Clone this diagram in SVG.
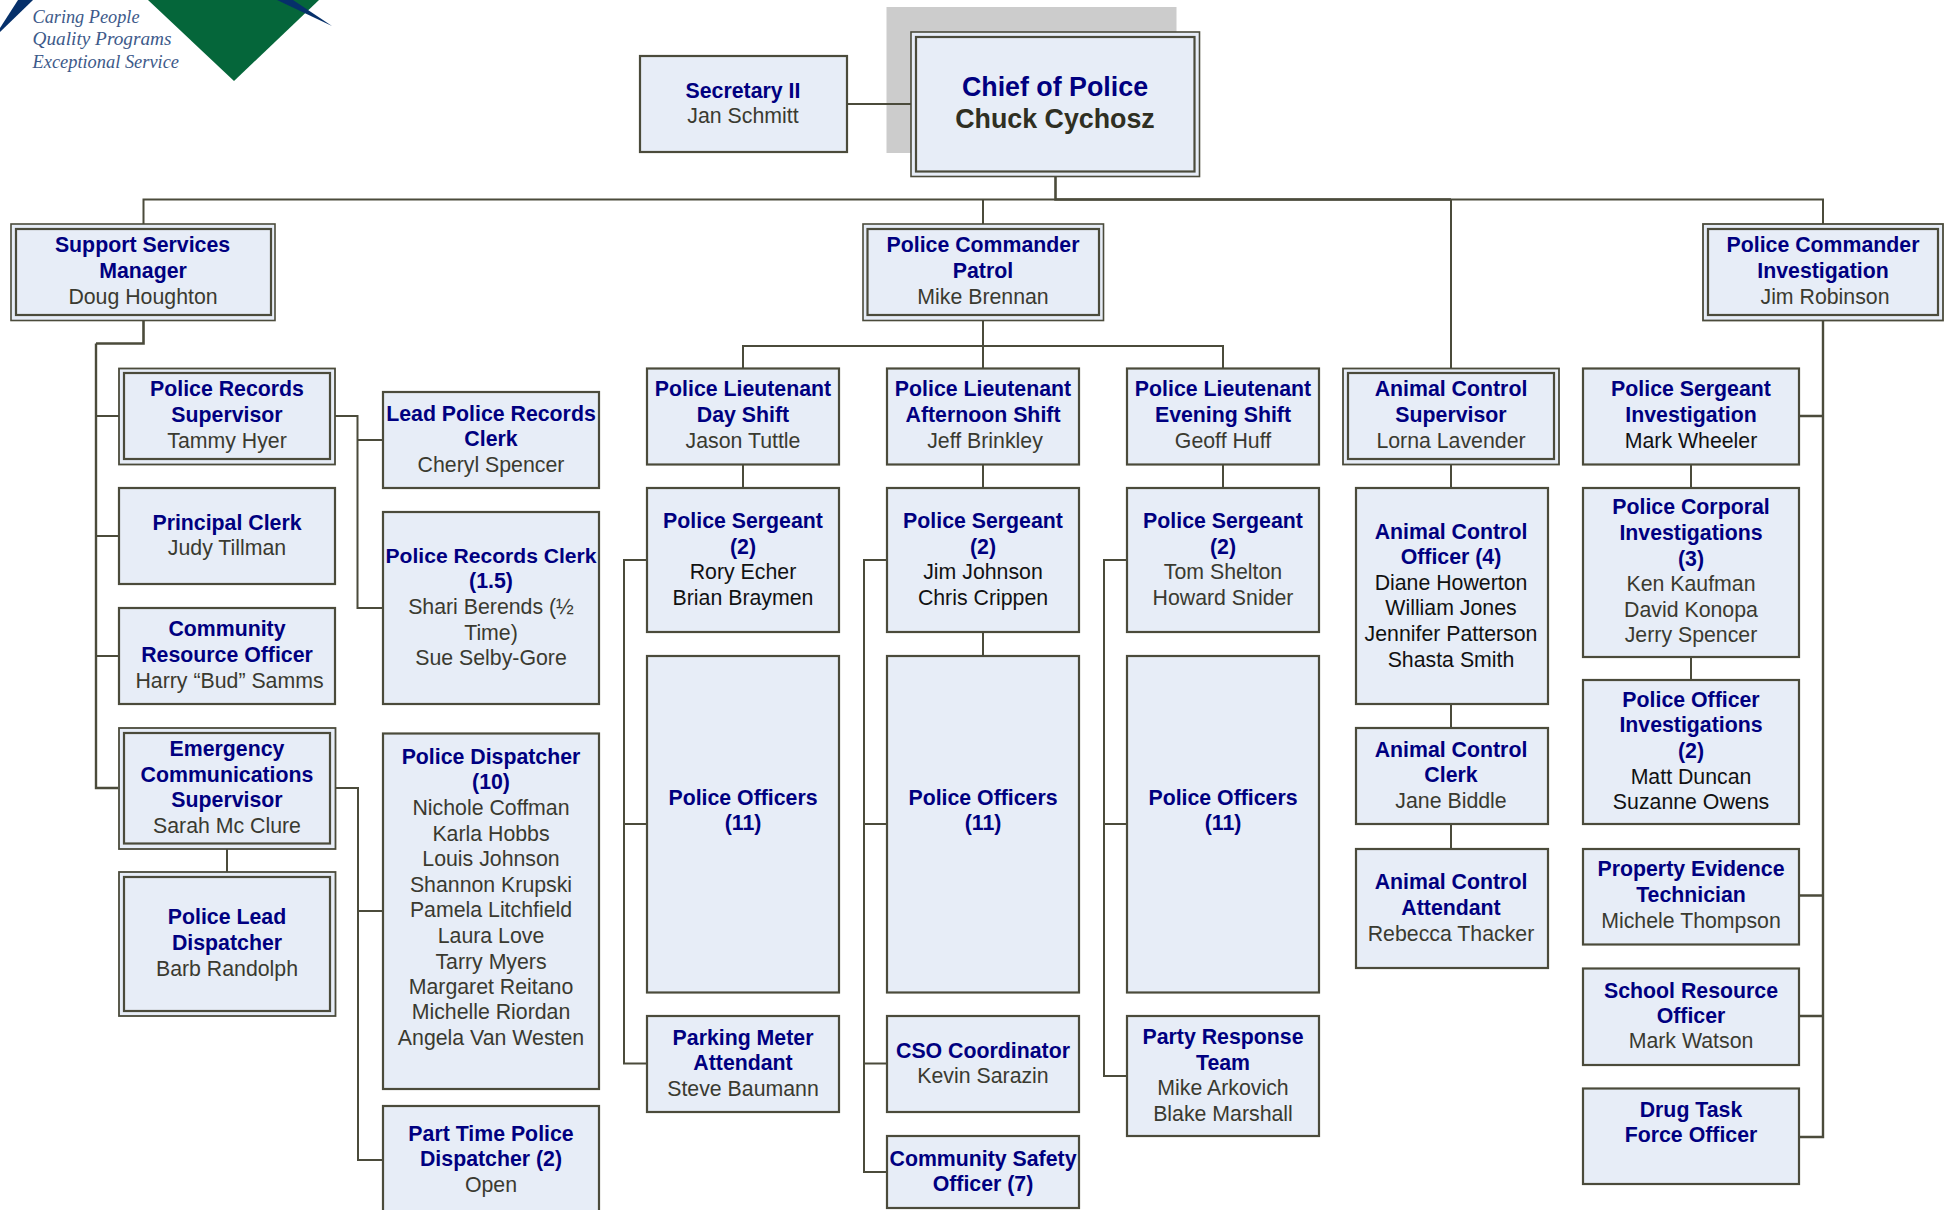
<svg xmlns="http://www.w3.org/2000/svg" width="1948" height="1210" viewBox="0 0 1948 1210">
<style>
text{font-family:"Liberation Sans",Arial,sans-serif;font-size:21.3px;text-anchor:middle}
.b{fill:#e7edf7;stroke:#4b4b3b;stroke-width:2.2}
.i{fill:none;stroke:#4b4b3b;stroke-width:2.2}
.t{font-weight:bold;fill:#000080}
.n{fill:#3a3a30}
.k{fill:#111111}
.c{fill:none;stroke:#4b4b3b;stroke-width:2}
.h{fill:none;stroke:#4b4b3b;stroke-width:2.600}
.l{font-family:"Liberation Serif",serif;font-style:italic;font-size:19.5px;fill:#3d5a8a;text-anchor:start}
</style>
<rect width="1948" height="1210" fill="#ffffff"/>
<g id="logo">
<polygon points="148,0 234,81 319,0" fill="#05663a"/>
<polygon points="277,0 293,0 332,26" fill="#06306a"/>
<polygon points="0,32 33,0 18,0 0,28" fill="#06306a"/>
<text class="l" x="32.500" y="23" textLength="107" lengthAdjust="spacingAndGlyphs">Caring People</text>
<text class="l" x="32.500" y="45" textLength="139" lengthAdjust="spacingAndGlyphs">Quality Programs</text>
<text class="l" x="32.500" y="68" textLength="146.500" lengthAdjust="spacingAndGlyphs">Exceptional Service</text>
</g>
<rect id="chief-shadow" x="886.500" y="7" width="290" height="146" fill="#cccccc"/>
<g id="connectors">
<path class="c" d="M847 104H911"/>
<path class="h" d="M1055.500 176V199.500H1451"/>
<path class="c" d="M143.500 224V199.500H1823V224"/>
<path class="c" d="M983 199.500V224"/>
<path class="c" d="M1451 199.500V368"/>
<path class="h" d="M143.500 321V343.500H96"/>
<path class="c" style="stroke-width:2.400" d="M96 343.500V788H118"/>
<path class="c" d="M96 416H119M96 536H119M96 656H119"/>
<path class="c" d="M335 416H357.500V608H383M357.500 440H383"/>
<path class="c" d="M227 849V872"/>
<path class="c" d="M336 788H358V1160H383M358 911H383"/>
<path class="c" d="M983 321V368M743 368V346H1223V368"/>
<path class="c" d="M743 464V488M983 464V488M1223 464V488M983 632V656"/>
<path class="c" d="M646 560H624V1063.500H647M624 824H646"/>
<path class="c" d="M887 560H864V1172H887M864 824H887M864 1063.500H887"/>
<path class="c" d="M1127 560H1104V1076H1127M1104 824H1127"/>
<path class="c" d="M1451 464V488M1451 704V728M1451 824V849"/>
<path class="c" d="M1691 464V488M1691 657V680"/>
<path class="c" style="stroke-width:2.400" d="M1823 321V1137H1799M1799 416H1823M1799 895.500H1823M1799 1016H1823"/>
</g>
<g id="secretary"><rect class="b" x="640" y="56" width="207" height="96"/><text class="t" x="743" y="97.700">Secretary II</text><text class="n" x="743" y="123">Jan Schmitt</text></g>
<g id="chief"><rect class="b" x="911" y="32" width="288.500" height="144.500" style="stroke-width:1.600"/><rect class="i" x="916" y="37" width="278.500" height="134.500"/><text class="t" x="1055" y="96" style="font-size:26.800px">Chief of Police</text><text x="1055" y="128.300" style="font-size:26.800px;font-weight:bold;fill:#2f2f22">Chuck Cychosz</text></g>
<g id="support"><rect class="b" x="11" y="224" width="264" height="96.500" style="stroke-width:1.600"/><rect class="i" x="16" y="229" width="255" height="86"/><text class="t" x="142.500" y="251.700">Support Services</text><text class="t" x="143" y="277.800">Manager</text><text class="n" x="143" y="303.700">Doug Houghton</text></g>
<g id="commander-patrol"><rect class="b" x="863" y="224" width="240.500" height="96.500" style="stroke-width:1.600"/><rect class="i" x="867.500" y="229" width="231.500" height="86"/><text class="t" x="983" y="251.700">Police Commander</text><text class="t" x="983" y="277.800">Patrol</text><text class="n" x="983" y="303.700">Mike Brennan</text></g>
<g id="commander-investigation"><rect class="b" x="1703" y="224" width="240" height="96.500" style="stroke-width:1.800"/><rect class="i" x="1708" y="229" width="230" height="86"/><text class="t" x="1823" y="251.800">Police Commander</text><text class="t" x="1823" y="277.700">Investigation</text><text class="n" x="1825" y="303.700">Jim Robinson</text></g>
<g id="records-supervisor"><rect class="b" x="119" y="368.500" width="216" height="96" style="stroke-width:1.800"/><rect class="i" x="124" y="373" width="206" height="86"/><text class="t" x="227" y="396">Police Records</text><text class="t" x="227" y="422">Supervisor</text><text class="n" x="227" y="448">Tammy Hyer</text></g>
<g id="lead-records"><rect class="b" x="383" y="392" width="216" height="96"/><text class="t" x="491" y="421">Lead Police Records</text><text class="t" x="491" y="445.500">Clerk</text><text class="n" x="491" y="471.600">Cheryl Spencer</text></g>
<g id="principal-clerk"><rect class="b" x="119" y="488" width="216" height="96"/><text class="t" x="227" y="530">Principal Clerk</text><text class="n" x="227" y="555">Judy Tillman</text></g>
<g id="records-clerk"><rect class="b" x="383" y="512" width="216" height="192"/><text class="t" x="491" y="563" style="font-size:21.100px">Police Records Clerk</text><text class="t" x="491" y="588">(1.5)</text><text class="n" x="491" y="614">Shari Berends (½</text><text class="n" x="491" y="640">Time)</text><text class="n" x="491" y="665">Sue Selby-Gore</text></g>
<g id="community-resource"><rect class="b" x="119" y="608" width="216" height="96"/><text class="t" x="227" y="635.600">Community</text><text class="t" x="227" y="661.700">Resource Officer</text><text class="n" x="229.500" y="687.800">Harry “Bud” Samms</text></g>
<g id="emergency"><rect class="b" x="119" y="728" width="216.500" height="121" style="stroke-width:1.800"/><rect class="i" x="124" y="733" width="206" height="110.500"/><text class="t" x="227" y="756">Emergency</text><text class="t" x="227" y="782">Communications</text><text class="t" x="227" y="807">Supervisor</text><text class="n" x="227" y="833">Sarah Mc Clure</text></g>
<g id="lead-dispatcher"><rect class="b" x="119" y="872" width="216.500" height="144" style="stroke-width:1.800"/><rect class="i" x="124" y="877" width="206" height="134"/><text class="t" x="227" y="923.800">Police Lead</text><text class="t" x="227" y="949.900">Dispatcher</text><text class="n" x="227" y="976">Barb Randolph</text></g>
<g id="dispatcher"><rect class="b" x="383" y="733.500" width="216" height="355.500"/><text class="t" x="491" y="764.300">Police Dispatcher</text><text class="t" x="491" y="789.300">(10)</text><text class="n" x="491" y="815">Nichole Coffman</text><text class="n" x="491" y="841">Karla Hobbs</text><text class="n" x="491" y="865.700">Louis Johnson</text><text class="n" x="491" y="891.700">Shannon Krupski</text><text class="n" x="491" y="916.700">Pamela Litchfield</text><text class="n" x="491" y="942.700">Laura Love</text><text class="n" x="491" y="968.700">Tarry Myers</text><text class="n" x="491" y="994">Margaret Reitano</text><text class="n" x="491" y="1019.300">Michelle Riordan</text><text class="n" x="491" y="1045">Angela Van Westen</text></g>
<g id="part-time"><rect class="b" x="383" y="1106" width="216" height="110"/><text class="t" x="491" y="1140.700">Part Time Police</text><text class="t" x="491" y="1166">Dispatcher (2)</text><text class="n" x="491" y="1191.700">Open</text></g>
<g id="lt-day"><rect class="b" x="647" y="368.500" width="192" height="96"/><text class="t" x="743" y="396">Police Lieutenant</text><text class="t" x="743" y="422">Day Shift</text><text class="n" x="743" y="448">Jason Tuttle</text></g>
<g id="lt-afternoon"><rect class="b" x="887" y="368.500" width="192" height="96"/><text class="t" x="983" y="396">Police Lieutenant</text><text class="t" x="983" y="422">Afternoon Shift</text><text class="n" x="985" y="448">Jeff Brinkley</text></g>
<g id="lt-evening"><rect class="b" x="1127" y="368.500" width="192" height="96"/><text class="t" x="1223" y="396">Police Lieutenant</text><text class="t" x="1223" y="422">Evening Shift</text><text class="n" x="1223" y="448">Geoff Huff</text></g>
<g id="sgt-day"><rect class="b" x="647" y="488" width="192" height="144"/><text class="t" x="743" y="528.300">Police Sergeant</text><text class="t" x="743" y="553.600">(2)</text><text class="k" x="743" y="578.500">Rory Echer</text><text class="k" x="743" y="604.500">Brian Braymen</text></g>
<g id="sgt-afternoon"><rect class="b" x="887" y="488" width="192" height="144"/><text class="t" x="983" y="528.300">Police Sergeant</text><text class="t" x="983" y="553.600">(2)</text><text class="k" x="983" y="578.500">Jim Johnson</text><text class="k" x="983" y="604.500">Chris Crippen</text></g>
<g id="sgt-evening"><rect class="b" x="1127" y="488" width="192" height="144"/><text class="t" x="1223" y="528.300">Police Sergeant</text><text class="t" x="1223" y="553.600">(2)</text><text class="n" x="1223" y="578.500">Tom Shelton</text><text class="n" x="1223" y="604.500">Howard Snider</text></g>
<g id="officers-day"><rect class="b" x="647" y="656" width="192" height="336.500"/><text class="t" x="743" y="804.600">Police Officers</text><text class="t" x="743" y="830">(11)</text></g>
<g id="officers-afternoon"><rect class="b" x="887" y="656" width="192" height="336.500"/><text class="t" x="983" y="804.600">Police Officers</text><text class="t" x="983" y="830">(11)</text></g>
<g id="officers-evening"><rect class="b" x="1127" y="656" width="192" height="336.500"/><text class="t" x="1223" y="804.600">Police Officers</text><text class="t" x="1223" y="830">(11)</text></g>
<g id="parking"><rect class="b" x="647" y="1016" width="192" height="96"/><text class="t" x="743" y="1045">Parking Meter</text><text class="t" x="743" y="1070">Attendant</text><text class="n" x="743" y="1096">Steve Baumann</text></g>
<g id="cso"><rect class="b" x="887" y="1016" width="192" height="96"/><text class="t" x="983" y="1057.700">CSO Coordinator</text><text class="n" x="983" y="1082.700">Kevin Sarazin</text></g>
<g id="community-safety"><rect class="b" x="887" y="1136" width="192" height="72"/><text class="t" x="983" y="1165.700">Community Safety</text><text class="t" x="983" y="1190.700">Officer (7)</text></g>
<g id="party"><rect class="b" x="1127" y="1016" width="192" height="120"/><text class="t" x="1223" y="1044.300">Party Response</text><text class="t" x="1223" y="1069.800">Team</text><text class="n" x="1223" y="1095">Mike Arkovich</text><text class="n" x="1223" y="1120.700">Blake Marshall</text></g>
<g id="animal-supervisor"><rect class="b" x="1343" y="368.500" width="216" height="96" style="stroke-width:1.800"/><rect class="i" x="1348" y="373" width="206" height="86"/><text class="t" x="1451" y="396">Animal Control</text><text class="t" x="1451" y="421.700">Supervisor</text><text class="n" x="1451" y="447.700">Lorna Lavender</text></g>
<g id="animal-officer"><rect class="b" x="1356" y="488" width="192" height="216"/><text class="t" x="1451" y="539">Animal Control</text><text class="t" x="1451" y="564">Officer (4)</text><text class="k" x="1451" y="590">Diane Howerton</text><text class="k" x="1451" y="615">William Jones</text><text class="k" x="1451" y="640.700">Jennifer Patterson</text><text class="k" x="1451" y="666.700">Shasta Smith</text></g>
<g id="animal-clerk"><rect class="b" x="1356" y="728" width="192" height="96"/><text class="t" x="1451" y="757.100">Animal Control</text><text class="t" x="1451" y="782">Clerk</text><text class="n" x="1451" y="808">Jane Biddle</text></g>
<g id="animal-attendant"><rect class="b" x="1356" y="849" width="192" height="119"/><text class="t" x="1451" y="888.700">Animal Control</text><text class="t" x="1451" y="914.700">Attendant</text><text class="n" x="1451" y="940.700">Rebecca Thacker</text></g>
<g id="sgt-investigation"><rect class="b" x="1583" y="368.500" width="216" height="96"/><text class="t" x="1691" y="396">Police Sergeant</text><text class="t" x="1691" y="421.700">Investigation</text><text class="k" x="1691" y="447.700">Mark Wheeler</text></g>
<g id="corporal"><rect class="b" x="1583" y="488" width="216" height="169"/><text class="t" x="1691" y="513.700">Police Corporal</text><text class="t" x="1691" y="539.700">Investigations</text><text class="t" x="1691" y="565.700">(3)</text><text class="n" x="1691" y="590.700">Ken Kaufman</text><text class="n" x="1691" y="616.700">David Konopa</text><text class="n" x="1691" y="642">Jerry Spencer</text></g>
<g id="officer-investigation"><rect class="b" x="1583" y="680" width="216" height="144"/><text class="t" x="1691" y="707.400">Police Officer</text><text class="t" x="1691" y="732.300">Investigations</text><text class="t" x="1691" y="758.400">(2)</text><text class="k" x="1691" y="784.400">Matt Duncan</text><text class="k" x="1691" y="809.300">Suzanne Owens</text></g>
<g id="property"><rect class="b" x="1583" y="849" width="216" height="95.500"/><text class="t" x="1691" y="876.400">Property Evidence</text><text class="t" x="1691" y="902.400">Technician</text><text class="n" x="1691" y="927.500">Michele Thompson</text></g>
<g id="school"><rect class="b" x="1583" y="968.500" width="216" height="96.500"/><text class="t" x="1691" y="997.700">School Resource</text><text class="t" x="1691" y="1022.700">Officer</text><text class="n" x="1691" y="1048">Mark Watson</text></g>
<g id="drug"><rect class="b" x="1583" y="1088.500" width="216" height="95.500"/><text class="t" x="1691" y="1117">Drug Task</text><text class="t" x="1691" y="1141.500">Force Officer</text></g>
</svg>
